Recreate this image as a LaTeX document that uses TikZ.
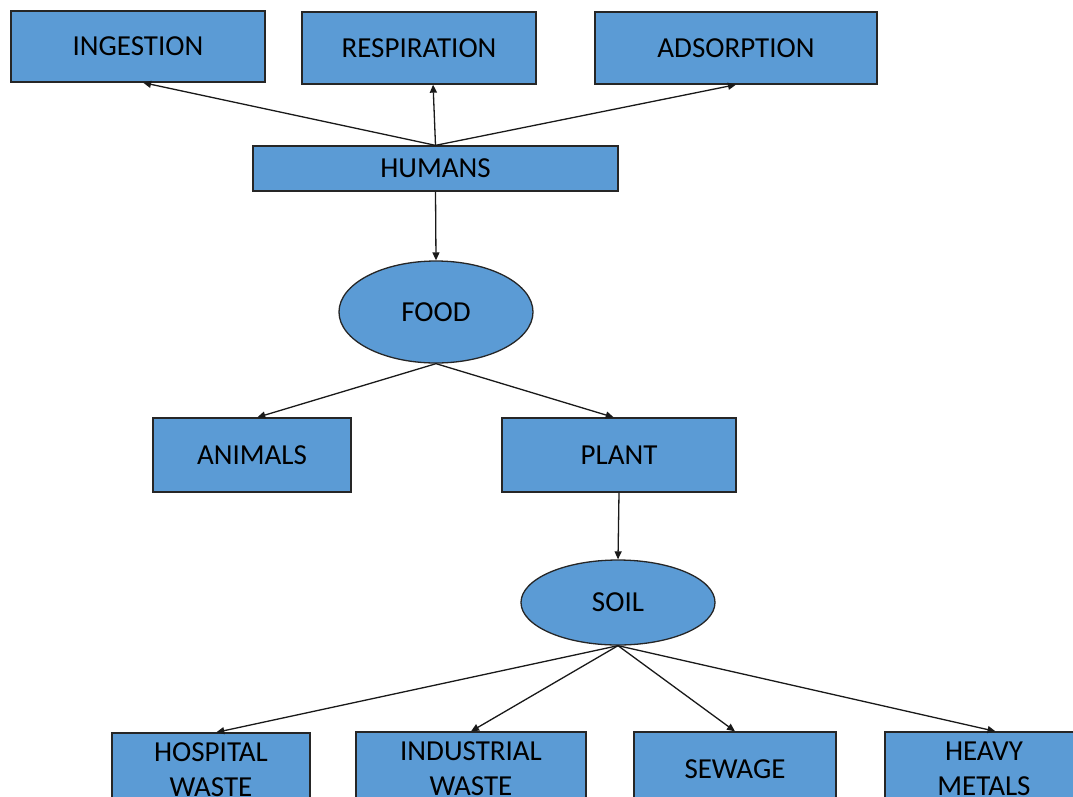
\documentclass[tikz,border=0pt]{standalone}
\usepackage{fontspec}
\setmainfont{Carlito}
\usetikzlibrary{arrows.meta,shapes.geometric}
\definecolor{blockblue}{HTML}{5B9BD5}

\begin{document}
\begin{tikzpicture}[x=1pt, y=-1pt, >={Triangle[length=8pt,width=7pt]},
  box/.style={rectangle, draw=black!85, fill=blockblue, line width=1.3pt, inner sep=0pt, align=center, font=\fontsize{29}{35}\selectfont},
  blob/.style={ellipse, draw=black!85, fill=blockblue, line width=1.3pt, inner sep=0pt, font=\fontsize{29}{35}\selectfont},
  link/.style={->, line width=1.3pt, black!90}]
  \useasboundingbox (0,0) rectangle (1073,796);
  % top row
  \node[box, minimum width=254pt, minimum height=71pt] (ingestion) at (138,46.5) {INGESTION};
  \node[box, minimum width=234pt, minimum height=72pt] (respiration) at (419,48) {RESPIRATION};
  \node[box, minimum width=282pt, minimum height=72pt] (adsorption) at (736,48) {ADSORPTION};
  \node[box, minimum width=365pt, minimum height=45pt] (humans) at (435.5,168.5) {HUMANS};
  % middle
  \node[blob, minimum width=194pt, minimum height=102pt] (food) at (436,312) {FOOD};
  \node[box, minimum width=198pt, minimum height=74pt] (animals) at (252,455) {ANIMALS};
  \node[box, minimum width=234pt, minimum height=74pt] (plant) at (619,455) {PLANT};
  \node[blob, minimum width=194pt, minimum height=85pt] (soil) at (618,602.5) {SOIL};
  % sources
  \node[box, minimum width=198pt, minimum height=74pt] (hospital) at (211,770) {HOSPITAL\\WASTE};
  \node[box, minimum width=230pt, minimum height=74pt] (industrial) at (471,769) {INDUSTRIAL\\WASTE};
  \node[box, minimum width=202pt, minimum height=74pt] (sewage) at (735,769) {SEWAGE};
  \node[box, minimum width=198pt, minimum height=74pt] (heavy) at (984,769) {HEAVY\\METALS};

  \draw[link] (humans.north) -- (ingestion.-82);
  \draw[link] (humans.north) -- (respiration.-69);
  \draw[link] (humans.north) -- (adsorption.south);
  \draw[link] (humans.south) -- (food.north);
  \draw[link] (food.south) -- (animals.82);
  \draw[link] (food.south) -- (plant.98);
  \draw[link] (plant.south) -- (soil.north);
  \draw[link] (soil.south) -- (hospital.82);
  \draw[link] (soil.south) -- (industrial.north);
  \draw[link] (soil.south) -- (sewage.north);
  \draw[link] (soil.south) -- (heavy.73);
\end{tikzpicture}
\end{document}
